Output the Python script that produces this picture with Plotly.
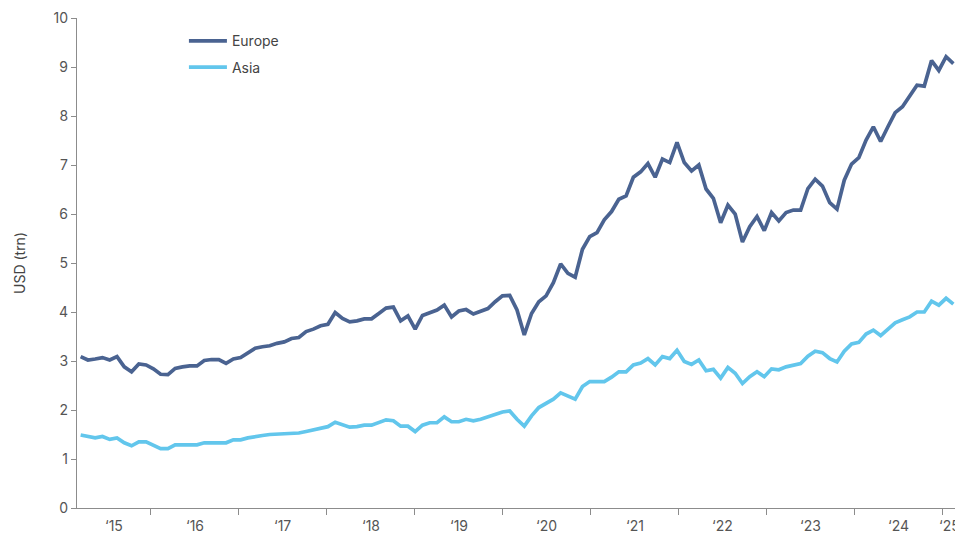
import datetime as dt
import plotly.graph_objects as go

# Monthly observations, Feb 2015 .. Feb 2025 (121 months)
months = [f"{2015 + (1 + i) // 12}-{(1 + i) % 12 + 1:02d}" for i in range(121)]

europe = [
    3.09, 3.02, 3.04, 3.07, 3.02, 3.09, 2.88, 2.78, 2.94, 2.92,
    2.84, 2.73, 2.72, 2.85, 2.88, 2.90, 2.90, 3.01, 3.03, 3.03,
    2.95, 3.04, 3.07, 3.17, 3.26, 3.29, 3.31, 3.36, 3.39, 3.46,
    3.48, 3.60, 3.65, 3.72, 3.75, 3.99, 3.87, 3.80, 3.82, 3.86,
    3.86, 3.97, 4.08, 4.10, 3.82, 3.92, 3.65, 3.93, 3.99, 4.04,
    4.14, 3.90, 4.02, 4.05, 3.96, 4.01, 4.07, 4.21, 4.33, 4.34,
    4.04, 3.53, 3.97, 4.21, 4.33, 4.60, 4.98, 4.79, 4.71, 5.28,
    5.54, 5.62, 5.88, 6.05, 6.30, 6.37, 6.75, 6.86, 7.03, 6.75,
    7.12, 7.05, 7.46, 7.05, 6.88, 7.00, 6.51, 6.32, 5.82, 6.18,
    6.00, 5.43, 5.74, 5.95, 5.66, 6.03, 5.86, 6.03, 6.08, 6.08,
    6.52, 6.71, 6.57, 6.23, 6.10, 6.69, 7.02, 7.15, 7.51, 7.78,
    7.48, 7.78, 8.07, 8.19, 8.41, 8.63, 8.61, 9.13, 8.93, 9.21,
    9.07,
]

asia = [
    1.49, 1.46, 1.43, 1.46, 1.40, 1.43, 1.33, 1.27, 1.35, 1.35,
    1.27, 1.21, 1.21, 1.29, 1.29, 1.29, 1.29, 1.33, 1.33, 1.33,
    1.33, 1.39, 1.39, 1.43, 1.46, 1.48, 1.50, 1.51, 1.51, 1.52,
    1.53, 1.56, 1.59, 1.63, 1.66, 1.75, 1.69, 1.65, 1.66, 1.69,
    1.69, 1.74, 1.80, 1.78, 1.67, 1.67, 1.56, 1.69, 1.74, 1.74,
    1.86, 1.76, 1.76, 1.81, 1.78, 1.81, 1.86, 1.91, 1.96, 1.98,
    1.81, 1.67, 1.88, 2.05, 2.13, 2.22, 2.35, 2.28, 2.22, 2.48,
    2.58, 2.58, 2.58, 2.67, 2.78, 2.78, 2.92, 2.96, 3.05, 2.92,
    3.09, 3.05, 3.22, 2.99, 2.93, 3.02, 2.80, 2.83, 2.65, 2.87,
    2.75, 2.54, 2.68, 2.78, 2.68, 2.84, 2.82, 2.88, 2.92, 2.95,
    3.10, 3.20, 3.17, 3.05, 2.98, 3.20, 3.35, 3.38, 3.55, 3.63,
    3.52, 3.65, 3.78, 3.84, 3.90, 4.00, 4.00, 4.22, 4.14, 4.28,
    4.16,
]

years = list(range(2016, 2026))
year_labels = ["‘15", "‘16", "‘17", "‘18", "‘19", "‘20", "‘21", "‘22", "‘23", "‘24", "‘25"]

EURO_COL = "#4A6391"
ASIA_COL = "#62C6EC"
TXT = "#555555"
AXIS = "#8C8C8C"
FONT = "Inter, Roboto, Arial, sans-serif"

n = len(months)
xs = list(range(n))
x_lo, x_hi = -0.5, n - 0.5

# year boundaries on a calendar scale spanning the plotted period
d0 = dt.date(2015, 3, 1)
d1 = dt.date(2025, 3, 1)
span = (d1 - d0).days


def cal_pos(d):
    return x_lo + (x_hi - x_lo) * (d - d0).days / span


tick_pos = [cal_pos(dt.date(y, 1, 1)) for y in years]
edges = [x_lo] + tick_pos + [x_hi]
label_pos = [(edges[j] + edges[j + 1]) / 2 for j in range(len(edges) - 1)]

fig = go.Figure()
fig.add_trace(go.Scatter(
    x=xs, y=europe, mode="lines", name="Europe", legendgroup="eu",
    line=dict(color=EURO_COL, width=3.7),
    customdata=months,
))
fig.add_trace(go.Scatter(
    x=xs, y=asia, mode="lines", name="Asia", legendgroup="as",
    line=dict(color=ASIA_COL, width=3.7),
    customdata=months,
))

for pos, lab in zip(label_pos, year_labels):
    fig.add_annotation(
        x=pos, y=0, xref="x", yref="paper", yanchor="top", yshift=-7,
        text=lab, showarrow=False, font=dict(family=FONT, size=14, color=TXT),
    )

# the page body adds an 8px offset, so the figure is sized to end at the window edge
fig.update_layout(
    width=955, height=525,
    margin=dict(l=69, r=6, t=10, b=25, autoexpand=False),
    paper_bgcolor="white", plot_bgcolor="white",
    font=dict(family=FONT, size=14, color=TXT),
    showlegend=True,
    legend=dict(
        x=0.1215, y=0.985, xanchor="left", yanchor="top",
        bgcolor="rgba(0,0,0,0)", font=dict(family=FONT, size=14, color="#444444"),
        tracegroupgap=5, itemwidth=38,
    ),
)

fig.update_xaxes(
    range=[x_lo, x_hi], showgrid=False, zeroline=False,
    showline=True, linecolor=AXIS, linewidth=1.3,
    tickmode="array", tickvals=tick_pos, ticktext=[""] * len(tick_pos),
    ticks="outside", ticklen=6, tickcolor=AXIS, tickwidth=1.2,
    automargin=False,
)
fig.update_yaxes(
    range=[0, 10], dtick=1, tick0=0, showgrid=False, zeroline=False,
    showline=True, linecolor=AXIS, linewidth=1.3,
    ticks="outside", ticklen=5, tickcolor=AXIS, tickwidth=1.2,
    tickfont=dict(family=FONT, size=14, color=TXT),
    title=dict(text="USD (trn)", font=dict(family=FONT, size=14, color="#444444"), standoff=24),
    automargin=False,
)

fig.write_html("out.html")
